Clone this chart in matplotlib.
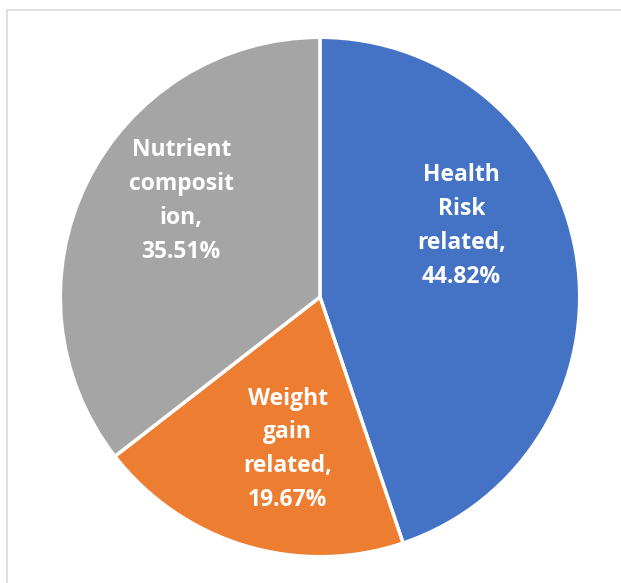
import numpy as np
import matplotlib.pyplot as plt
from matplotlib.patches import Rectangle

labels = ['Health\nRisk\nrelated,', 'Weight\ngain\nrelated,', 'Nutrient\ncomposit\nion,']
shares = [44.82, 19.67, 35.51]
colors = ['#4472C4', '#ED7D31', '#A5A5A5']

# where Excel put each data label (angle in degrees, fraction of radius)
lab_angle = [26.6, -102.0, 145.3]
lab_rad = [0.61, 0.60, 0.65]

fig = plt.figure(figsize=(6.21, 5.83), dpi=100)
fig.patches.append(Rectangle((7 / 621, -0.1), 1.2, 1 - 10 / 583 + 0.1,
                             transform=fig.transFigure, fill=False,
                             edgecolor='#d9d9d9', linewidth=1.2))

ax = fig.add_axes([59 / 621, 25 / 583, 522 / 621, 522 / 583])
ax.pie(shares, colors=colors, startangle=90, counterclock=False,
       wedgeprops=dict(edgecolor='white', linewidth=2.5))
ax.set_xlim(-1.005, 1.005)
ax.set_ylim(-1.005, 1.005)
ax.set_aspect('equal')

for lab, s, a, r in zip(labels, shares, lab_angle, lab_rad):
    x = r * np.cos(np.radians(a))
    y = r * np.sin(np.radians(a))
    ax.text(x, y, f'{lab}\n{s:.2f}%', ha='center', va='center', color='white',
            fontsize=16.5, fontweight='bold', family='Open Sans', linespacing=1.55)

fig.savefig('out.png', dpi=100)
